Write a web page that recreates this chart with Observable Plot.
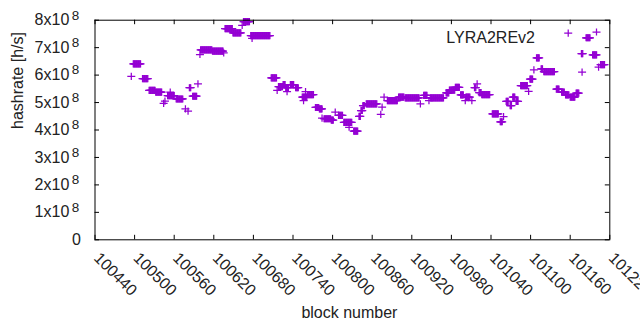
<!DOCTYPE html>
<html><head><meta charset="utf-8">
<script src="https://cdn.jsdelivr.net/npm/d3@7"></script>
<script src="https://cdn.jsdelivr.net/npm/@observablehq/plot@0.6"></script>
<style>body{margin:0;background:#fff}#chart{width:640px;height:330px}</style>
</head><body><div id="chart"></div>
<script>
// Runs of consecutive blocks that share one hashrate reading
const runStart = [100495,100498,100512,100522,100532,100544,100546,100550,100554,100563,100577,100581,100583,100588,100596,100599,100600,100618,100635,100637,100649,100663,100665,100676,100678,100707,100716,100718,100725,100729,100731,100736,100744,100754,100756,100759,100762,100774,100780,100784,100787,100798,100804,100809,100817,100825,100832,100840,100843,100846,100851,100873,100875,100878,100883,100900,100910,100933,100938,100946,100948,100972,100977,100986,100994,101001,101002,101011,101015,101019,101022,101026,101042,101054,101059,101063,101069,101073,101078,101085,101097,101099,101105,101109,101116,101120,101139,101147,101153,101157,101160,101169,101177,101178,101184,101194,101203,101206];
const runEnd   = [100495,100509,100520,100531,100541,100544,100546,100560,100554,100573,100577,100581,100585,100594,100596,100599,100617,100634,100635,100648,100661,100663,100674,100705,100678,100715,100716,100724,100728,100733,100731,100741,100748,100761,100756,100759,100771,100779,100784,100784,100797,100801,100804,100815,100829,100825,100838,100842,100845,100848,100867,100873,100875,100878,100898,100908,100931,100933,100943,100946,100968,100976,100985,100992,100998,101001,101008,101011,101017,101019,101025,101038,101051,101057,101059,101066,101071,101076,101081,101095,101097,101103,101105,101113,101118,101136,101143,101151,101158,101157,101167,101173,101179,101178,101190,101200,101203,101212];
const runHashrate = [5.95e8,6.41e8,5.87e8,5.44e8,5.38e8,4.97e8,5.05e8,5.25e8,5.38e8,5.13e8,4.77e8,4.69e8,5.54e8,5.23e8,5.68e8,6.75e8,6.92e8,6.87e8,6.81e8,7.69e8,7.54e8,7.81e8,7.95e8,7.44e8,7.34e8,5.90e8,5.44e8,5.58e8,5.65e8,5.54e8,5.40e8,5.65e8,5.54e8,5.20e8,5.07e8,5.40e8,5.29e8,4.82e8,4.77e8,4.43e8,4.41e8,4.36e8,4.65e8,4.53e8,4.28e8,4.10e8,3.96e8,4.50e8,4.71e8,4.89e8,4.95e8,4.57e8,4.83e8,5.20e8,5.07e8,5.20e8,5.17e8,4.95e8,5.26e8,5.07e8,5.17e8,5.35e8,5.45e8,5.55e8,5.28e8,5.07e8,5.20e8,5.07e8,5.54e8,5.68e8,5.36e8,5.29e8,4.59e8,4.30e8,4.49e8,5.04e8,4.89e8,5.20e8,5.04e8,5.62e8,5.41e8,5.85e8,6.19e8,6.63e8,6.23e8,6.13e8,5.49e8,5.38e8,5.28e8,7.53e8,5.20e8,5.34e8,6.78e8,6.11e8,7.36e8,6.74e8,6.29e8,6.38e8];

const xTicks = [100440,100500,100560,100620,100680,100740,100800,100860,100920,100980,101040,101100,101160,101220];
const yTicks = [1e8,2e8,3e8,4e8,5e8,6e8,7e8,8e8];
const yTickMantissa = ["1x10","2x10","3x10","4x10","5x10","6x10","7x10","8x10"];
const yTickExponent = ["8","8","8","8","8","8","8","8"];
const yZeroLabel = ["0"];
const seriesName = "LYRA2REv2";
const xTitle = "block number";
const yTitle = "hashrate [h/s]";

const points = [];
runStart.forEach((s, i) => {
  for (let b = s; b <= runEnd[i]; b++) points.push({block: b, hashrate: runHashrate[i]});
});

const color = "#9400D3";
const plusSymbol = {draw(ctx) { ctx.moveTo(-4, 0); ctx.lineTo(4, 0); ctx.moveTo(0, -3.6); ctx.lineTo(0, 3.6); }};

const mL = 94.5, mR = 30.7, mT = 19.7, mB = 90.7, W = 640, H = 330;
const fw = W - mL - mR, fh = H - mT - mB, tl = 4.5;

const chart = Plot.plot({
  width: W, height: H,
  marginLeft: mL, marginRight: mR, marginTop: mT, marginBottom: mB,
  x: {domain: [100440, 101220], axis: null},
  y: {domain: [0, 8e8], axis: null},
  style: {fontFamily: "'Liberation Sans', Arial, sans-serif", fontSize: "16px", color: "#000", background: "#fff", overflow: "visible"},
  marks: [
    Plot.dot(points, {x: "block", y: "hashrate", symbol: plusSymbol, fill: "none", stroke: color, strokeWidth: 1.25}),
    Plot.tickX(xTicks, {x: d => d, insetTop: fh - tl, stroke: "#000"}),
    Plot.tickX(xTicks, {x: d => d, insetBottom: fh - tl, stroke: "#000"}),
    Plot.tickY([0, ...yTicks], {y: d => d, insetRight: fw - tl, stroke: "#000"}),
    Plot.tickY([0, ...yTicks], {y: d => d, insetLeft: fw - tl, stroke: "#000"}),
    Plot.frame({stroke: "#000", strokeWidth: 1}),
    Plot.text(xTicks, {x: d => d, frameAnchor: "bottom", text: d => String(d), rotate: 45, textAnchor: "start", lineAnchor: "middle", dx: 1.5, dy: 15.5, fontSize: 16, fill: "#222"}),
    Plot.text(yTicks, {y: d => d, frameAnchor: "left", text: (d, i) => yTickMantissa[i], textAnchor: "end", dx: 68.8 - mL, fontSize: 16, fill: "#222"}),
    Plot.text(yTicks, {y: d => d, frameAnchor: "left", text: (d, i) => yTickExponent[i], textAnchor: "start", dx: 71.2 - mL, dy: -5, fontSize: 13.5, fill: "#222"}),
    Plot.text(yZeroLabel, {y: 0, frameAnchor: "left", text: d => d, textAnchor: "end", dx: 80.5 - mL, fontSize: 16, fill: "#222"}),
    Plot.text([yTitle], {frameAnchor: "left", rotate: -90, dx: 17 - mL, dy: -1, fontSize: 16, fill: "#222"}),
    Plot.text([xTitle], {frameAnchor: "bottom", dx: -3, dy: 78.5, fontSize: 16, fill: "#222"}),
    Plot.text([seriesName], {frameAnchor: "top-right", textAnchor: "end", dx: 534.5 - (W - mR), dy: 31.3 - mT, fontSize: 16, fill: "#222"}),
    Plot.dot([seriesName], {frameAnchor: "top-right", symbol: plusSymbol, fill: "none", stroke: color, strokeWidth: 1.25, dx: 596 - (W - mR), dy: 31.5 - mT})
  ]
});
document.getElementById("chart").appendChild(chart);
</script>
</body></html>
